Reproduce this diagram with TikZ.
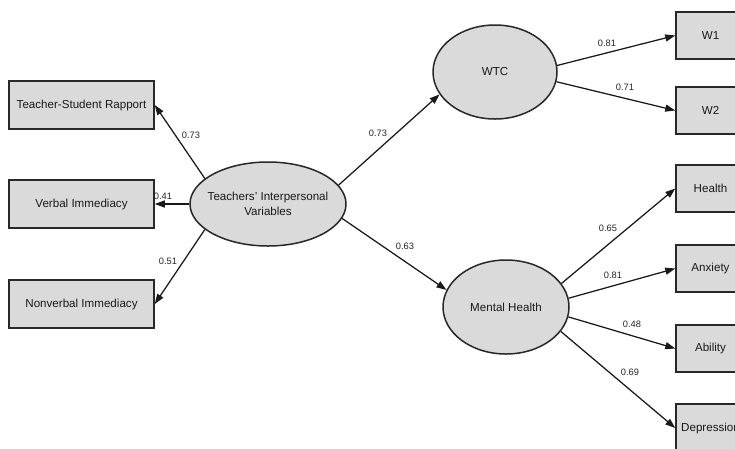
\documentclass[tikz,border=0pt]{standalone}
\usepackage{fontspec}
\setmainfont{Liberation Sans}
\usetikzlibrary{arrows.meta,shapes.geometric}
\definecolor{boxfill}{RGB}{218,218,218}
\definecolor{edgecol}{RGB}{40,40,40}
\tikzset{
  obs/.style={draw=edgecol, line width=1.5pt, fill=boxfill, rectangle, inner sep=0pt,
    font=\fontsize{11.6}{13}\selectfont, text=black!90},
  lat/.style={draw=edgecol, line width=1.5pt, fill=boxfill, ellipse, inner sep=0pt,
    font=\fontsize{11.6}{15}\selectfont, text=black!90, align=center},
  path/.style={line width=1.25pt, black!90, -{Triangle[length=10pt,width=7pt]}},
  lbl/.style={font=\fontsize{9.3}{11}\selectfont, text=black!85, inner sep=0pt}
}
\begin{document}
\begin{tikzpicture}[x=1pt,y=-1pt]
\useasboundingbox (0,0) rectangle (735,448);
\clip (0,0) rectangle (735,448);
\fill[white] (0,0) rectangle (735,448);
% left observed
\node[obs, minimum width=145pt, minimum height=48pt] (tsr) at (81.5,105) {Teacher-Student Rapport};
\node[obs, minimum width=145pt, minimum height=48pt] (vi) at (81.5,204) {Verbal Immediacy};
\node[obs, minimum width=145pt, minimum height=48pt] (nvi) at (81.5,304) {Nonverbal Immediacy};
% latents
\node[lat, inner xsep=-8pt, minimum width=156pt, minimum height=84pt] (tiv) at (268,204) {Teachers' Interpersonal\\Variables};
\node[lat, minimum width=124pt, minimum height=94pt] (wtc) at (495,72) {WTC};
\node[lat, minimum width=126pt, minimum height=94pt] (mh) at (506,307) {Mental Health};
% right observed
\node[obs, minimum width=69pt, minimum height=47pt] (w1) at (710.5,35.5) {W1};
\node[obs, minimum width=69pt, minimum height=47pt] (w2) at (710.5,110.5) {W2};
\node[obs, minimum width=69pt, minimum height=47pt] (hea) at (710.5,188.5) {Health};
\node[obs, minimum width=69pt, minimum height=47pt] (anx) at (710.5,268.5) {Anxiety};
\node[obs, minimum width=69pt, minimum height=47pt] (abi) at (710.5,348.5) {Ability};
\node[obs, minimum width=69pt, minimum height=48pt] (dep) at (710.5,428) {Depression};
% paths
\draw[path] (tiv.158) -- (tsr.east);
\draw[path] (tiv.west) -- (vi.east);
\draw[path] (tiv.202) -- (nvi.east);
\draw[path] (tiv.15) -- (wtc.202);
\draw[path] (tiv.-11) -- (mh.164);
\draw[path] (wtc.6) -- (w1.west);
\draw[path] (wtc.-9) -- (w2.west);
\draw[path] (mh.23) -- (hea.west);
\draw[path] (mh.8) -- (anx.west);
\draw[path] (mh.-9) -- (abi.west);
\draw[path] (mh.-24) -- (dep.west);
% labels
\node[lbl] (l1) at (191,135) {0.73};
\node[lbl] (l2) at (163,196) {0.41};
\node[lbl] (l3) at (168,261) {0.51};
\node[lbl] (l4) at (378,133) {0.73};
\node[lbl] (l5) at (405,246) {0.63};
\node[lbl] (l6) at (607,43) {0.81};
\node[lbl] (l7) at (625,87) {0.71};
\node[lbl] (l8) at (608,228) {0.65};
\node[lbl] (l9) at (613,275) {0.81};
\node[lbl] (l10) at (632,324) {0.48};
\node[lbl] (l11) at (630,372) {0.69};
\end{tikzpicture}
\end{document}
